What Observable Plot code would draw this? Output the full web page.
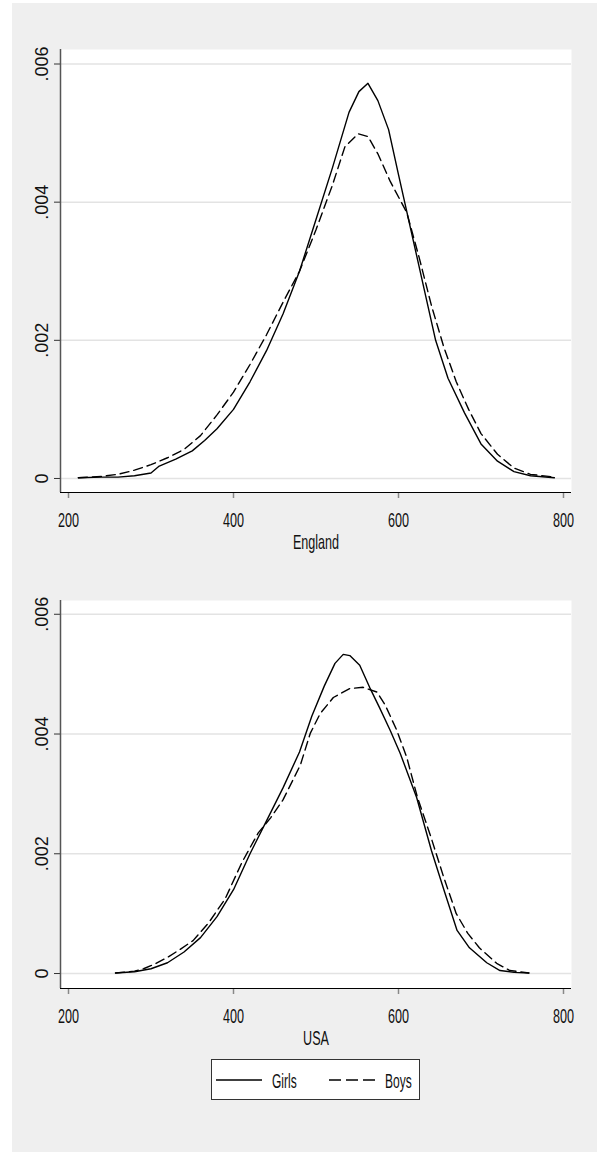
<!DOCTYPE html>
<html><head><meta charset="utf-8">
<script src="https://cdn.jsdelivr.net/npm/d3@7"></script>
<script src="https://cdn.jsdelivr.net/npm/@observablehq/plot@0.6"></script>
<style>
html,body{margin:0;padding:0;background:#fff;}
#bg{position:absolute;left:12px;top:3px;width:585px;height:1149px;background:#efefef;}
.panel{position:absolute;left:0;}
#legend{position:absolute;left:211px;top:1059px;}
</style></head><body>
<div id="bg"></div>
<div id="p1" class="panel" style="top:0px"></div>
<div id="p2" class="panel" style="top:560px"></div>
<div id="legend"></div>
<script>
// ---- Data ----
const seriesNames = ["Girls", "Boys"];
const panelLabels = ["England", "USA"];
const xTicks = [200, 400, 600, 800];
const yTicks = [0, 0.002, 0.004, 0.006];
const yTickLabels = ["0", ".002", ".004", ".006"];
const xDomain = [190.3, 809.7];
const yDomainEngland = [-0.000203, 0.00621];
const yDomainUSA = [-0.00025, 0.00623];

const englandGirlsScore = [212,240,260,280,300,310,330,350,365,380,400,420,440,460,480,500,520,540,552,563,575,588,600,615,630,645,660,680,700,720,740,760,789];
const englandGirlsDensity = [0.00001,0.00002,0.00002,0.00004,0.00008,0.00018,0.00028,0.00040,0.00055,0.00072,0.00100,0.00140,0.00185,0.00238,0.00300,0.00375,0.00450,0.00530,0.00560,0.00572,0.00547,0.00505,0.00440,0.00360,0.00280,0.00200,0.00145,0.00095,0.00050,0.00025,0.00010,0.00004,0.00001];

const englandBoysScore = [212,240,260,280,300,320,340,360,380,400,420,440,460,480,500,520,535,551,563,575,590,610,625,640,655,670,685,700,720,740,760,789];
const englandBoysDensity = [0.00001,0.00003,0.00006,0.00012,0.00020,0.00030,0.00042,0.00062,0.00092,0.00125,0.00165,0.00208,0.00255,0.00300,0.00360,0.00425,0.00480,0.00499,0.00495,0.00470,0.00430,0.00385,0.00320,0.00250,0.00190,0.00140,0.00100,0.00065,0.00035,0.00015,0.00006,0.00002];

const usaGirlsScore = [257,280,300,320,340,360,380,400,420,440,460,480,495,510,523,533,541,553,565,577,590,602,622,640,655,671,686,707,723,740,758];
const usaGirlsDensity = [0.00001,0.00003,0.00008,0.00018,0.00036,0.00060,0.00095,0.00140,0.00200,0.00255,0.00310,0.00370,0.00430,0.00480,0.00518,0.00533,0.00531,0.00515,0.00478,0.00444,0.00406,0.00368,0.00294,0.00205,0.00140,0.00072,0.00043,0.00018,0.00005,0.00002,0.00001];

const usaBoysScore = [257,280,291,305,320,335,351,370,390,410,430,445,460,481,493,505,521,541,557,574,584,598,610,623,640,655,670,684,698,719,735,758];
const usaBoysDensity = [0.00001,0.00004,0.00008,0.00016,0.00027,0.00040,0.00055,0.00085,0.00125,0.00185,0.00235,0.00260,0.00290,0.00348,0.00401,0.00434,0.00461,0.00476,0.00478,0.00470,0.00448,0.00406,0.00361,0.00294,0.00225,0.00160,0.00100,0.00067,0.00043,0.00017,0.00005,0.00001];

const FONT = "'Liberation Sans', Arial, Helvetica, sans-serif";
const SQUEEZE = 0.6;
const dashes = "9,5";

function toRows(xs, ys) { return xs.map((x, i) => ({score: x, density: ys[i]})); }

function panel({girls, boys, label, height, marginTop, yDomain}) {
  return Plot.plot({
    width: 601, height, marginLeft: 60, marginRight: 30, marginTop, marginBottom: 68,
    style: {background: "transparent", fontFamily: FONT, overflow: "visible", color: "#111"},
    x: {domain: xDomain},
    y: {domain: yDomain},
    marks: [
      Plot.frame({fill: "white", stroke: null}),
      Plot.gridY(yTicks, {stroke: "#e3e3e3", strokeOpacity: 1, strokeWidth: 1.5}),
      Plot.axisY(yTicks, {
        tickFormat: d => yTickLabels[yTicks.indexOf(d)],
        tickRotate: -90, tickSize: 6, tickPadding: 7, fontSize: 18,
        textAnchor: "middle", lineAnchor: "bottom",
        stroke: "#333", fill: "#111", label: null
      }),
      Plot.axisX(xTicks, {
        tickFormat: d => String(d), tickSize: 6, tickPadding: 14, fontSize: 21,
        stroke: "#888", strokeWidth: 1.5, fill: "#111",
        label, labelAnchor: "center", labelOffset: 56, labelArrow: "none"
      }),
      Plot.ruleX([xDomain[0]], {stroke: "#555", strokeWidth: 1.5}),
      Plot.ruleY([yDomain[0]], {stroke: "#000", strokeWidth: 1.2}),
      Plot.line(girls, {x: "score", y: "density", stroke: "#000", strokeWidth: 1.4}),
      Plot.line(boys, {x: "score", y: "density", stroke: "#000", strokeWidth: 1.4, strokeDasharray: dashes})
    ]
  });
}

function squeeze(svg) {
  svg.querySelectorAll('g[aria-label="x-axis tick label"] text, g[aria-label="x-axis label"] text').forEach(t => {
    const w = t.getComputedTextLength();
    t.setAttribute("textLength", (w * SQUEEZE).toFixed(1));
    t.setAttribute("lengthAdjust", "spacingAndGlyphs");
  });
}

const p1 = panel({
  girls: toRows(englandGirlsScore, englandGirlsDensity),
  boys: toRows(englandBoysScore, englandBoysDensity),
  label: panelLabels[0], height: 560, marginTop: 49, yDomain: yDomainEngland
});
document.getElementById("p1").append(p1);
squeeze(p1);

const p2 = panel({
  girls: toRows(usaGirlsScore, usaGirlsDensity),
  boys: toRows(usaBoysScore, usaBoysDensity),
  label: panelLabels[1], height: 496, marginTop: 40, yDomain: yDomainUSA
});
document.getElementById("p2").append(p2);
squeeze(p2);

// ---- Legend ----
const lg = d3.select("#legend").append("svg").attr("width", 210).attr("height", 42)
  .style("font-family", FONT).style("overflow", "visible");
lg.append("rect").attr("x", 0.5).attr("y", 0.5).attr("width", 208).attr("height", 40)
  .attr("fill", "white").attr("stroke", "#333");
const entries = [
  {name: seriesNames[0], dash: null, x0: 5},
  {name: seriesNames[1], dash: "12,5", x0: 118}
];
entries.forEach(e => {
  lg.append("line").attr("x1", e.x0).attr("x2", e.x0 + 46).attr("y1", 21).attr("y2", 21)
    .attr("stroke", "#000").attr("stroke-width", 1.6).attr("stroke-dasharray", e.dash);
  const t = lg.append("text").attr("x", e.x0 + 56).attr("y", 29).attr("font-size", 20)
    .attr("fill", "#111").text(e.name);
  const w = t.node().getComputedTextLength();
  t.attr("textLength", (w * SQUEEZE).toFixed(1)).attr("lengthAdjust", "spacingAndGlyphs");
});
</script>
</body></html>
